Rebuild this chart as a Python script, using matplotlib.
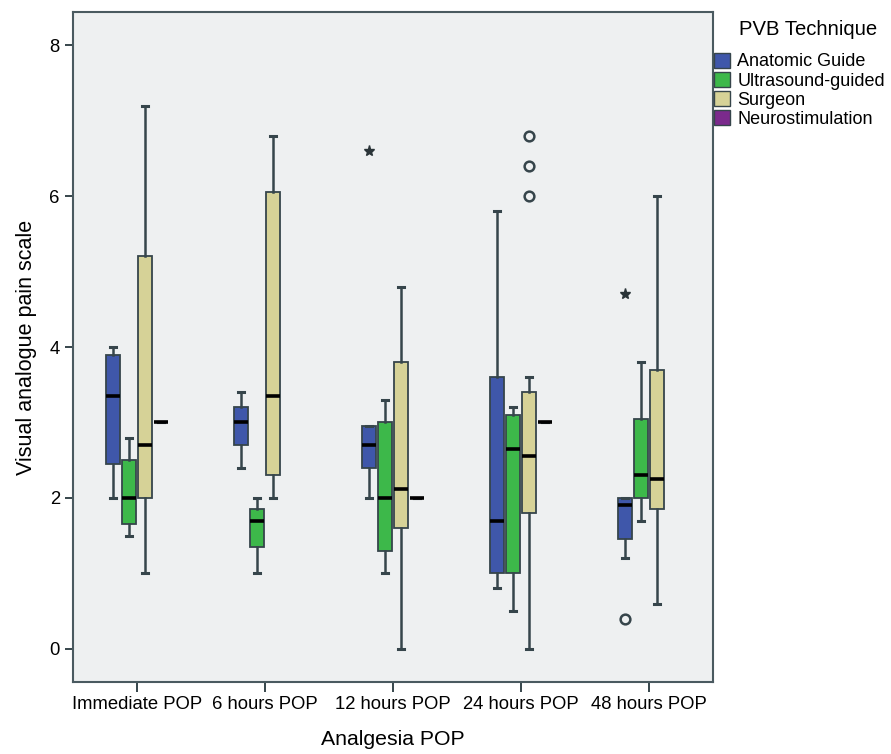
import matplotlib
matplotlib.use("Agg")
import matplotlib.pyplot as plt
import matplotlib.patches as patches

plt.rcParams['font.family'] = ['Liberation Sans', 'DejaVu Sans']

# ---------------------------------------------------------------
# Dados (VAS por técnica de PVB)
# ---------------------------------------------------------------
categorias = ["Immediate POP", "6 hours POP", "12 hours POP",
              "24 hours POP", "48 hours POP"]
tecnicas = ["Anatomic Guide", "Ultrasound-guided", "Surgeon",
            "Neurostimulation"]

anatomic_whislo = [2.0, 2.4, 2.0, 0.8, 1.2]
anatomic_q1 = [2.45, 2.7, 2.4, 1.0, 1.45]
anatomic_med = [3.35, 3.0, 2.7, 1.7, 1.9]
anatomic_q3 = [3.9, 3.2, 2.95, 3.6, 2.0]
anatomic_whishi = [4.0, 3.4, 2.95, 5.8, 2.0]

ultra_whislo = [1.5, 1.0, 1.0, 0.5, 1.7]
ultra_q1 = [1.65, 1.35, 1.3, 1.0, 2.0]
ultra_med = [2.0, 1.7, 2.0, 2.65, 2.3]
ultra_q3 = [2.5, 1.85, 3.0, 3.1, 3.05]
ultra_whishi = [2.8, 2.0, 3.3, 3.2, 3.8]

surgeon_whislo = [1.0, 2.0, 0.0, 0.0, 0.6]
surgeon_q1 = [2.0, 2.3, 1.6, 1.8, 1.85]
surgeon_med = [2.7, 3.35, 2.12, 2.55, 2.25]
surgeon_q3 = [5.2, 6.05, 3.8, 3.4, 3.7]
surgeon_whishi = [7.2, 6.8, 4.8, 3.6, 6.0]

# Neurostimulation: só um valor (caixa de altura zero)
neuro_valor = [3.0, None, 2.0, 3.0, None]

# outliers (técnica, categoria, valor)
outliers_circulo = [(2, 3, 6.0), (2, 3, 6.4), (2, 3, 6.8), (0, 4, 0.4)]
outliers_extremos = [(0, 2, 6.6), (0, 4, 4.7)]

CORES = ['#3F57AA', '#3DB84A', '#D6D297', '#7B2A8C']
COR_BORDA = '#36454B'

# ---------------------------------------------------------------
# Montagem das estatísticas para bxp
# ---------------------------------------------------------------
series = [
    (anatomic_whislo, anatomic_q1, anatomic_med, anatomic_q3, anatomic_whishi),
    (ultra_whislo, ultra_q1, ultra_med, ultra_q3, ultra_whishi),
    (surgeon_whislo, surgeon_q1, surgeon_med, surgeon_q3, surgeon_whishi),
    (neuro_valor, neuro_valor, neuro_valor, neuro_valor, neuro_valor),
]
deslocamentos = [-0.1875, -0.0625, 0.0625, 0.1875]
largura = 0.11

fig = plt.figure(figsize=(8.91, 7.54), dpi=100)
ax = fig.add_axes([0.082, 0.0955, 0.718, 0.8885])
ax.set_facecolor('#EEF0F1')

for t, (wlo, q1, med, q3, whi) in enumerate(series):
    stats, pos = [], []
    for c in range(len(categorias)):
        if med[c] is None:
            continue
        stats.append(dict(whislo=wlo[c], q1=q1[c], med=med[c], q3=q3[c],
                          whishi=whi[c], fliers=[]))
        pos.append(c + deslocamentos[t])
    ax.bxp(stats, positions=pos, widths=largura, capwidths=0.045,
           patch_artist=True, showfliers=False,
           boxprops=dict(facecolor=CORES[t], edgecolor=COR_BORDA, linewidth=1.3),
           medianprops=dict(color='black', linewidth=2.6, solid_capstyle='butt'),
           whiskerprops=dict(color=COR_BORDA, linewidth=1.8),
           capprops=dict(color=COR_BORDA, linewidth=2.2),
           manage_ticks=False, zorder=3)

for t, c, v in outliers_circulo:
    ax.plot(c + deslocamentos[t], v, marker='o', markersize=7,
            markerfacecolor='none', markeredgecolor=COR_BORDA,
            markeredgewidth=1.8, zorder=4)
for t, c, v in outliers_extremos:
    ax.plot(c + deslocamentos[t], v, marker='*', markersize=8,
            color='#2A3438', zorder=4)

ax.set_xlim(-0.5, 4.5)
ax.set_ylim(-0.44, 8.44)
ax.set_xticks(range(len(categorias)))
ax.set_xticklabels(categorias, fontsize=13.3)
ax.set_yticks([0, 2, 4, 6, 8])
ax.tick_params(axis='y', labelsize=13.3, length=6, width=1.4, color=COR_BORDA)
ax.tick_params(axis='x', length=7, width=1.4, color=COR_BORDA, pad=3)
for sp in ax.spines.values():
    sp.set_color('#4A5A60')
    sp.set_linewidth(1.5)

ax.set_xlabel("Analgesia POP", fontsize=15.3, labelpad=12)
ax.set_ylabel("Visual analogue pain scale", fontsize=15.5, labelpad=9)

# legenda
fig.text(0.829, 0.9535, "PVB Technique", fontsize=14.6, va='baseline', ha='left')
handles = [patches.Patch(facecolor=CORES[i], edgecolor=COR_BORDA, linewidth=1.0,
                         label=tecnicas[i]) for i in range(4)]
fig.legend(handles=handles, loc='upper left', bbox_to_anchor=(0.797, 0.935),
           frameon=False, fontsize=13, handlelength=0.9, handleheight=0.9,
           handletextpad=0.4, labelspacing=0.08, borderaxespad=0, borderpad=0.2)

fig.savefig("out.png", dpi=100, facecolor='white')
